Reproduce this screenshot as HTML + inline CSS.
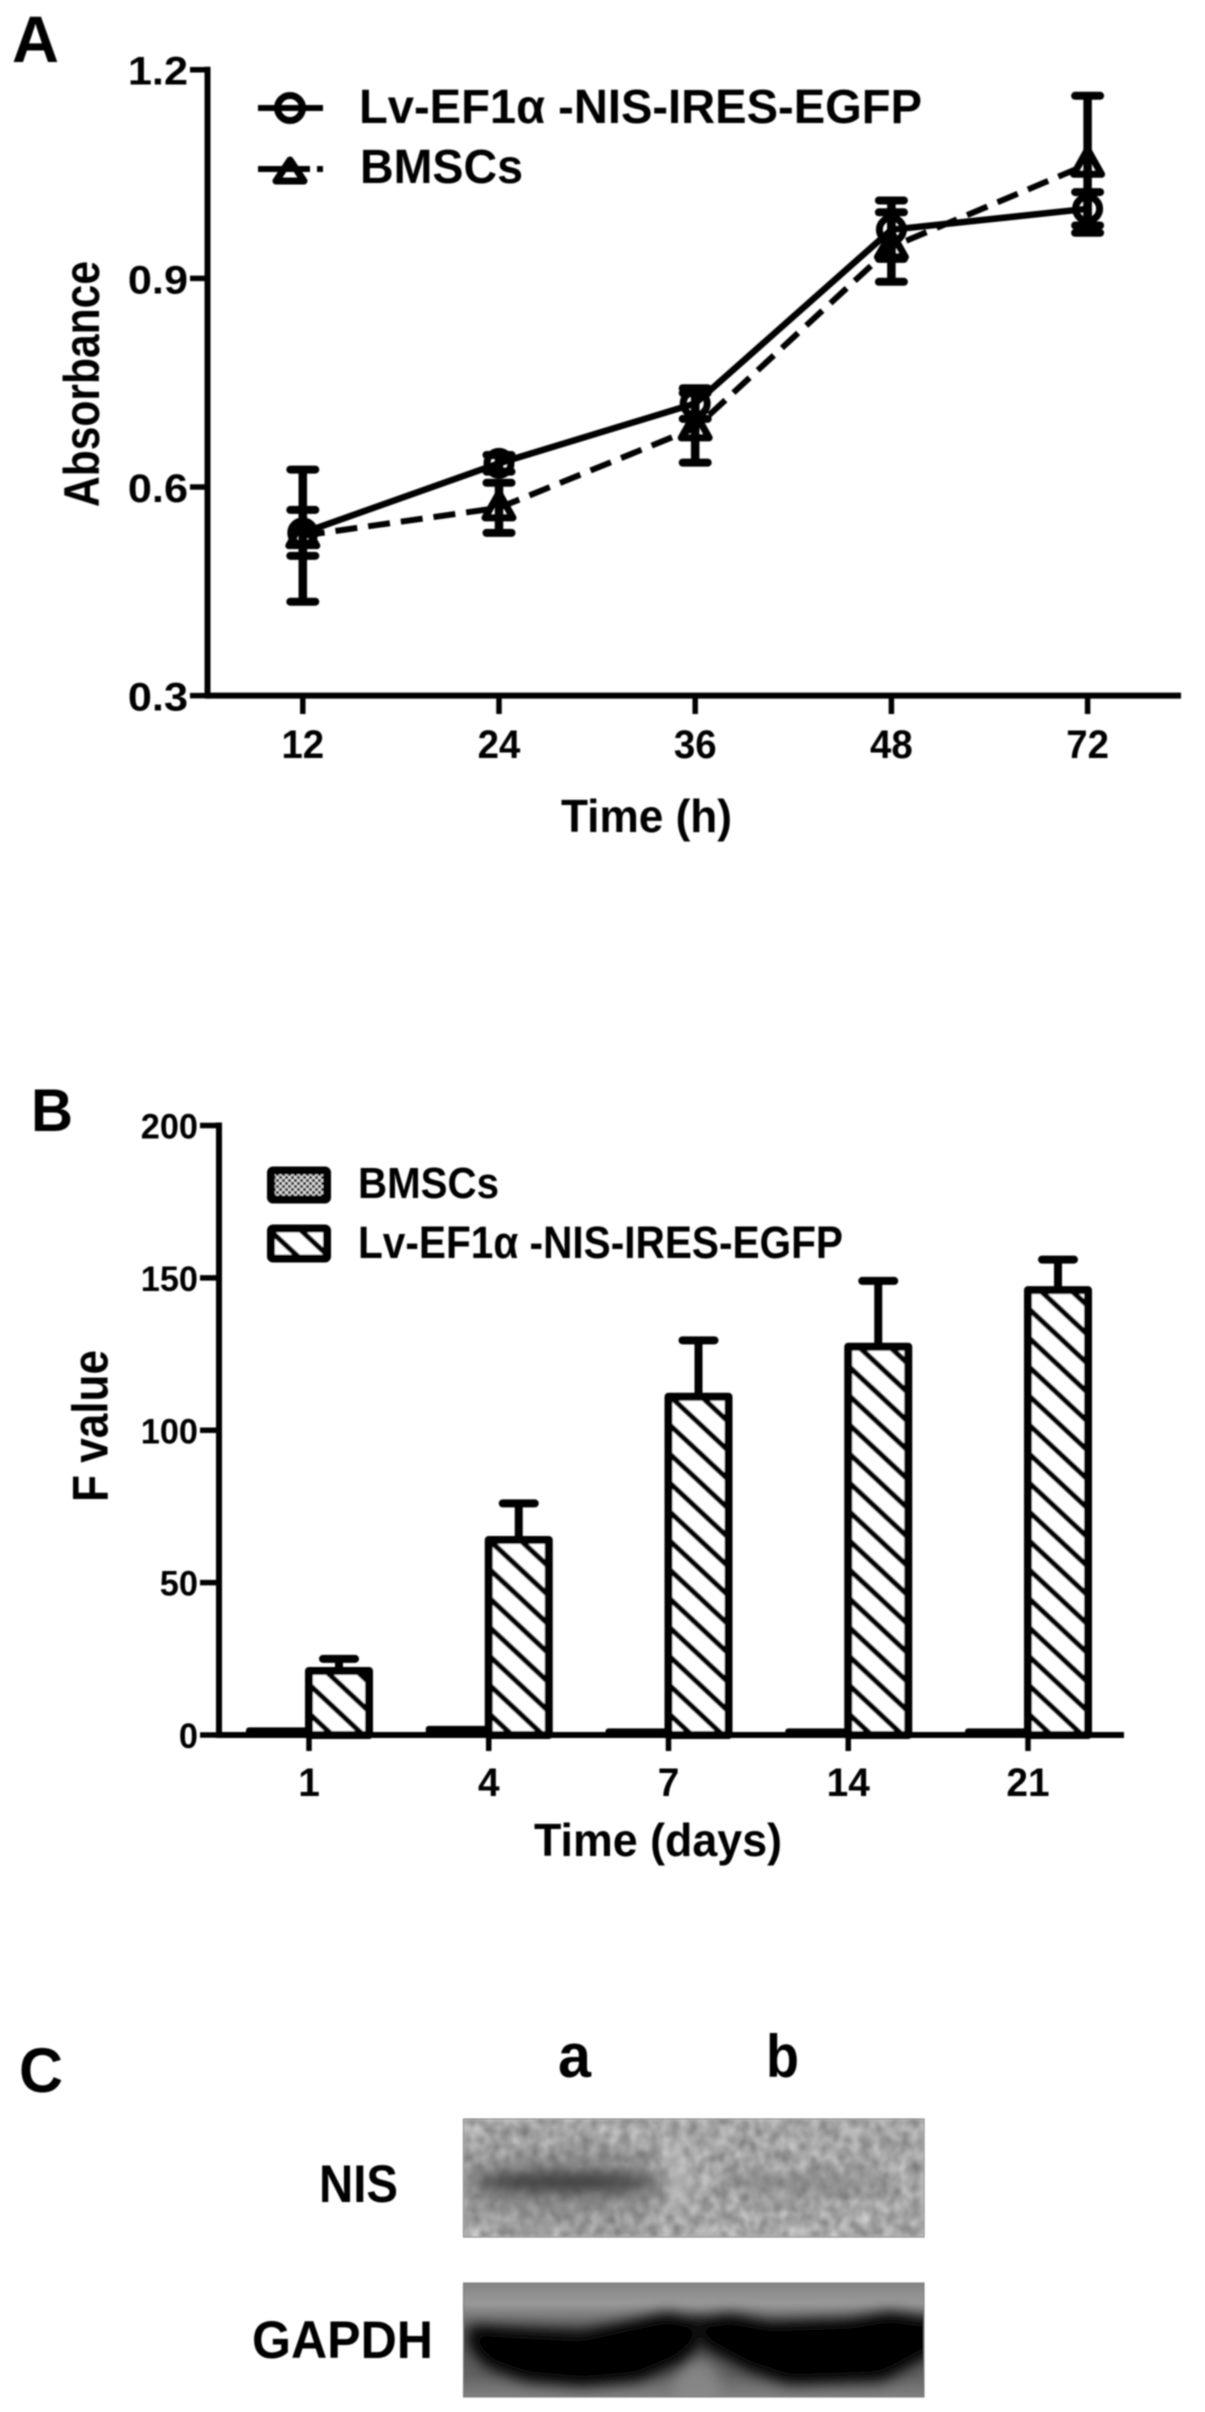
<!DOCTYPE html>
<html lang="en">
<head>
<meta charset="utf-8">
<title>Absorbance, F value and Western blot panels</title>
<style>
  html, body { margin: 0; padding: 0; background: #fff; }
  svg { display: block; }
  text { font-family: "Liberation Sans", sans-serif; font-weight: bold; fill: #000; }
</style>
</head>
<body>
<svg id="figure" xmlns="http://www.w3.org/2000/svg" width="1205" height="2412" viewBox="0 0 1205 2412">
  <defs>
    <filter id="soft" x="-5%" y="-5%" width="110%" height="110%"><feGaussianBlur stdDeviation="0.7"/></filter>
    <filter id="blur3" x="-30%" y="-60%" width="160%" height="220%"><feGaussianBlur stdDeviation="7"/></filter>
    <filter id="blur5" x="-20%" y="-30%" width="140%" height="160%"><feGaussianBlur stdDeviation="7"/></filter>
    <filter id="blur14" x="-30%" y="-60%" width="160%" height="220%"><feGaussianBlur stdDeviation="14"/></filter>
    <filter id="noise" x="0" y="0" width="100%" height="100%" color-interpolation-filters="sRGB">
      <feTurbulence type="fractalNoise" baseFrequency="0.1 0.08" numOctaves="2" seed="7"/>
      <feColorMatrix type="matrix" values="0.45 0 0 0 0.42  0.45 0 0 0 0.42  0.45 0 0 0 0.42  0 0 0 0 1"/>
      <feGaussianBlur stdDeviation="1.2"/>
    </filter>
    <linearGradient id="gapdhBg" x1="0" y1="0" x2="0" y2="1">
      <stop offset="0" stop-color="#858585"/>
      <stop offset="0.18" stop-color="#989898"/>
      <stop offset="0.42" stop-color="#555"/>
      <stop offset="0.8" stop-color="#606060"/>
      <stop offset="1" stop-color="#808080"/>
    </linearGradient>
    <pattern id="dots" patternUnits="userSpaceOnUse" width="6" height="6">
      <rect width="6" height="6" fill="#111"/>
      <rect x="0" y="0" width="3" height="3" fill="#ddd"/>
      <rect x="3" y="3" width="3" height="3" fill="#ddd"/>
    </pattern>
    <clipPath id="blot1"><rect x="463.5" y="2119" width="460.5" height="118"/></clipPath>
    <clipPath id="blot2"><rect x="463.5" y="2283" width="460.5" height="114"/></clipPath>
  </defs>

  <g id="root" filter="url(#soft)">
    <g id="panel-a"></g>
    <g id="panel-b"></g>

    <g id="panel-c">
      <text x="19" y="2092" font-size="63" textLength="44" lengthAdjust="spacingAndGlyphs">C</text>
      <text x="558" y="2077" font-size="62" textLength="33" lengthAdjust="spacingAndGlyphs">a</text>
      <text x="766" y="2077" font-size="60" textLength="33" lengthAdjust="spacingAndGlyphs">b</text>
      <text x="319" y="2202" font-size="53" textLength="79" lengthAdjust="spacingAndGlyphs">NIS</text>
      <text x="252" y="2358" font-size="53" textLength="181" lengthAdjust="spacingAndGlyphs">GAPDH</text>

      <g clip-path="url(#blot1)">
        <rect x="463.5" y="2119" width="460.5" height="118" fill="#a0a0a0" filter="url(#noise)"/>
        <ellipse cx="565" cy="2185" rx="115" ry="34" fill="#6c6c6c" opacity="0.55" filter="url(#blur14)"/>
        <ellipse cx="565" cy="2182" rx="88" ry="10" fill="#3c3c3c" opacity="0.95" filter="url(#blur3)"/>
        <ellipse cx="805" cy="2184" rx="88" ry="13" fill="#6c6c6c" opacity="0.4" filter="url(#blur3)"/>
        <ellipse cx="677" cy="2175" rx="9" ry="40" fill="#d0d0d0" opacity="0.6" filter="url(#blur3)"/>
      </g>
      <rect x="463.5" y="2119" width="460.5" height="118" fill="none" stroke="#777" stroke-width="1"/>

      <g clip-path="url(#blot2)">
        <rect x="463.5" y="2283" width="460.5" height="114" fill="url(#gapdhBg)"/>
        <ellipse cx="697" cy="2392" rx="24" ry="32" fill="#8a8a8a" opacity="0.85" filter="url(#blur5)"/>
        <path d="M475 2332 L517 2335 L583 2338 L667 2319 L695 2325 L695 2342 L677 2358 L637 2375 L583 2380 L527 2375 L490 2362 L475 2345 Z" fill="#000" stroke="#000" stroke-width="12" stroke-linejoin="round" filter="url(#blur5)"/>
        <path d="M699 2325 L730 2320 L770 2328 L850 2325 L890 2318 L935 2325 L935 2345 L900 2365 L880 2375 L790 2378 L750 2365 L707 2342 Z" fill="#000" stroke="#000" stroke-width="12" stroke-linejoin="round" filter="url(#blur5)"/>
      </g>
      <rect x="463.5" y="2283" width="460.5" height="114" fill="none" stroke="#777" stroke-width="1"/>
    </g>
  </g>
</svg>

<script>
// Panel A data
const timeHours = ['12', '24', '36', '48', '72'];
const absorbanceTicks = [0.3, 0.6, 0.9, 1.2];
const nisAbsorbance = [0.534, 0.634, 0.72, 0.97, 1.0];
const nisAbsorbanceErr = [0.033, 0.012, 0.022, 0.042, 0.024];
const bmscAbsorbance = [0.53, 0.57, 0.685, 0.945, 1.064];
const bmscAbsorbanceErr = [0.095, 0.036, 0.05, 0.05, 0.0985];

// Panel B data
const timeDays = ['1', '4', '7', '14', '21'];
const fValueTicks = [0, 50, 100, 150, 200];
const bmscFValue = [1.5, 2, 1.2, 1.2, 1.2];
const nisFValue = [21, 64, 111, 127.4, 146];
const nisFValueErr = [4, 12, 18.5, 21.6, 10];

const NS = 'http://www.w3.org/2000/svg';
function mk(parent, tag, attrs, txt) {
  const e = document.createElementNS(NS, tag);
  for (const k in attrs) e.setAttribute(k, attrs[k]);
  if (txt !== undefined) e.textContent = txt;
  parent.appendChild(e);
  return e;
}
function stretch(t, factor) {
  t.setAttribute('textLength', (t.getComputedTextLength() * factor).toFixed(1));
  t.setAttribute('lengthAdjust', 'spacingAndGlyphs');
}

/* ---------- Panel A ---------- */
const pa = document.getElementById('panel-a');
const axA = { left: 207.5, right: 1181, top: 69.7, bottom: 695.6, min: 0.3, max: 1.2 };
function xA(i) { return 302.8 + i * 196.2; }
function yA(v) { return axA.bottom - (v - axA.min) / (axA.max - axA.min) * (axA.bottom - axA.top); }

let n;
n = mk(pa, 'text', { x: 12, y: 62, 'font-size': 66, textLength: 47, lengthAdjust: 'spacingAndGlyphs' }, 'A');



n = mk(pa, 'line', { x1: axA.left, x2: axA.left, y1: axA.top - 3, y2: axA.bottom + 3, stroke: '#000', 'stroke-width': 6 });


n = mk(pa, 'line', { x1: axA.left, x2: axA.right, y1: axA.bottom, y2: axA.bottom, stroke: '#000', 'stroke-width': 6 });



absorbanceTicks.forEach(function (v) {
  const t = mk(pa, 'line', { x1: 190, x2: axA.left, y1: yA(v), y2: yA(v), stroke: '#000', 'stroke-width': 5.5 });
  
  
  const l = mk(pa, 'text', { x: 188, y: yA(v) + 15, 'font-size': 40, 'text-anchor': 'end' }, v.toFixed(1));
  
  
  stretch(l, 1.08);
});
timeHours.forEach(function (c, i) {
  const t = mk(pa, 'line', { x1: xA(i), x2: xA(i), y1: axA.bottom, y2: 714, stroke: '#000', 'stroke-width': 5.5 });
  
  
  const l = mk(pa, 'text', { x: xA(i), y: 758, 'font-size': 40, 'text-anchor': 'middle' }, c);
  
  
  stretch(l, 0.96);
});

n = mk(pa, 'text', { x: 561, y: 832, 'font-size': 46, textLength: 171, lengthAdjust: 'spacingAndGlyphs' }, 'Time (h)');


n = mk(pa, 'text', { transform: 'translate(99 507) rotate(-90)', 'font-size': 50, textLength: 246, lengthAdjust: 'spacingAndGlyphs' }, 'Absorbance');



function polyPoints(vals) {
  return vals.map(function (v, i) { return xA(i).toFixed(1) + ',' + yA(v).toFixed(1); }).join(' ');
}
function errorBars(vals, errs, seriesName) {
  vals.forEach(function (v, i) {
    const x = xA(i);
    const stem = mk(pa, 'line', { x1: x, x2: x, y1: yA(v + errs[i]), y2: yA(v - errs[i]), stroke: '#000', 'stroke-width': 8.5 });
    
    
    [v + errs[i], v - errs[i]].forEach(function (e) {
      const cap = mk(pa, 'line', { x1: x - 12.5, x2: x + 12.5, y1: yA(e), y2: yA(e), stroke: '#000', 'stroke-width': 8, 'stroke-linecap': 'round' });
      
      
    });
  });
}
function triangle(cx, cy) {
  return (cx) + ',' + (cy - 15) + ' ' + (cx + 14) + ',' + (cy + 10) + ' ' + (cx - 14) + ',' + (cy + 10);
}
errorBars(bmscAbsorbance, bmscAbsorbanceErr, 'bmsc');
errorBars(nisAbsorbance, nisAbsorbanceErr, 'nis');

n = mk(pa, 'polyline', { points: polyPoints(bmscAbsorbance), fill: 'none', stroke: '#000', 'stroke-width': 6, 'stroke-dasharray': '22 11' });


n = mk(pa, 'polyline', { points: polyPoints(nisAbsorbance), fill: 'none', stroke: '#000', 'stroke-width': 6.5 });



bmscAbsorbance.forEach(function (v, i) {
  const m = mk(pa, 'polygon', { points: triangle(xA(i), yA(v)), fill: 'none', stroke: '#000', 'stroke-width': 7, 'stroke-linejoin': 'round' });
  
  
});
nisAbsorbance.forEach(function (v, i) {
  const m = mk(pa, 'circle', { cx: xA(i), cy: yA(v), r: 12, fill: 'none', stroke: '#000', 'stroke-width': 7 });
  
  
});

// Panel A legend
n = mk(pa, 'line', { x1: 258, x2: 323, y1: 108, y2: 108, stroke: '#000', 'stroke-width': 6 });


n = mk(pa, 'circle', { cx: 290, cy: 108, r: 12.5, fill: 'none', stroke: '#000', 'stroke-width': 7 });


n = mk(pa, 'text', { x: 359, y: 123, 'font-size': 48, textLength: 563, lengthAdjust: 'spacingAndGlyphs' }, 'Lv-EF1α -NIS-IRES-EGFP');


n = mk(pa, 'line', { x1: 258, x2: 323, y1: 169, y2: 169, stroke: '#000', 'stroke-width': 6, 'stroke-dasharray': '52 7 7 0' });


n = mk(pa, 'polygon', { points: '290,160 304,181 276,181', fill: 'none', stroke: '#000', 'stroke-width': 7, 'stroke-linejoin': 'round' });


n = mk(pa, 'text', { x: 360, y: 183, 'font-size': 48, textLength: 163, lengthAdjust: 'spacingAndGlyphs' }, 'BMSCs');



/* ---------- Panel B ---------- */
const pb = document.getElementById('panel-b');
const defs = document.querySelector('svg defs');
const axB = { left: 219, right: 1124, top: 1125.5, bottom: 1735, min: 0, max: 200 };
const barW = 60;
function xB(i) { return 309 + i * 179.75; }
function yB(v) { return axB.bottom - (v - axB.min) / (axB.max - axB.min) * (axB.bottom - axB.top); }

n = mk(pb, 'text', { x: 31, y: 1131, 'font-size': 60, textLength: 42, lengthAdjust: 'spacingAndGlyphs' }, 'B');



function hatchPattern(id, tx, ty) {
  const p = mk(defs, 'pattern', { id: id, patternUnits: 'userSpaceOnUse', width: 31, height: 28.95, patternTransform: 'translate(' + tx + ' ' + ty + ')' });
  mk(p, 'rect', { width: 31, height: 28.95, fill: '#fff' });
  [-31, 0, 31].forEach(function (dx) {
    mk(p, 'line', { x1: dx - 10, y1: -9.34, x2: dx + 41, y2: 38.29, stroke: '#000', 'stroke-width': 5.4 });
  });
}

bmscFValue.forEach(function (v, i) {
  const b = mk(pb, 'rect', { x: xB(i) - 60, y: yB(v), width: 60, height: axB.bottom - yB(v), fill: '#000', stroke: '#000', 'stroke-width': 6, 'stroke-linejoin': 'round' });
  
  
});
nisFValue.forEach(function (v, i) {
  const x = xB(i);
  const pid = 'hatch' + i;
  hatchPattern(pid, x + 4, axB.bottom - 18);
  const cx = x + barW / 2;
  const stem = mk(pb, 'line', { x1: cx, x2: cx, y1: yB(v + nisFValueErr[i]), y2: yB(v), stroke: '#000', 'stroke-width': 8 });
  
  
  const cap = mk(pb, 'line', { x1: cx - 16, x2: cx + 16, y1: yB(v + nisFValueErr[i]), y2: yB(v + nisFValueErr[i]), stroke: '#000', 'stroke-width': 8, 'stroke-linecap': 'round' });
  
  
  const b = mk(pb, 'rect', { x: x, y: yB(v), width: barW, height: axB.bottom - yB(v), fill: 'url(#' + pid + ')', stroke: '#000', 'stroke-width': 8, 'stroke-linejoin': 'round' });
  
  
});

n = mk(pb, 'line', { x1: axB.left, x2: axB.left, y1: axB.top - 3, y2: axB.bottom + 3, stroke: '#000', 'stroke-width': 6 });


n = mk(pb, 'line', { x1: axB.left, x2: axB.right, y1: axB.bottom, y2: axB.bottom, stroke: '#000', 'stroke-width': 6 });



fValueTicks.forEach(function (v) {
  const t = mk(pb, 'line', { x1: 200, x2: axB.left, y1: yB(v), y2: yB(v), stroke: '#000', 'stroke-width': 5.5 });
  
  
  const l = mk(pb, 'text', { x: 198, y: yB(v) + 13, 'font-size': 35, 'text-anchor': 'end' }, String(v));
  
  
  stretch(l, 0.98);
});
timeDays.forEach(function (c, i) {
  const t = mk(pb, 'line', { x1: xB(i), x2: xB(i), y1: axB.bottom, y2: 1751, stroke: '#000', 'stroke-width': 5.5 });
  
  
  const l = mk(pb, 'text', { x: xB(i), y: 1796, 'font-size': 40, 'text-anchor': 'middle' }, c);
  
  
  stretch(l, 0.97);
});

n = mk(pb, 'text', { x: 534, y: 1856, 'font-size': 46, textLength: 248, lengthAdjust: 'spacingAndGlyphs' }, 'Time (days)');


n = mk(pb, 'text', { transform: 'translate(107.5 1502) rotate(-90)', 'font-size': 50, textLength: 152, lengthAdjust: 'spacingAndGlyphs' }, 'F value');



// Panel B legend
hatchPattern('hatchLegend', 276, 1236);
n = mk(pb, 'rect', { x: 271, y: 1170.5, width: 56, height: 29, fill: 'url(#dots)', stroke: '#000', 'stroke-width': 8, rx: 2 });


n = mk(pb, 'text', { x: 358, y: 1198, 'font-size': 44, textLength: 141, lengthAdjust: 'spacingAndGlyphs' }, 'BMSCs');


n = mk(pb, 'rect', { x: 271, y: 1228.5, width: 56, height: 30, fill: 'url(#hatchLegend)', stroke: '#000', 'stroke-width': 8, rx: 2 });


n = mk(pb, 'text', { x: 358, y: 1258, 'font-size': 45, textLength: 485, lengthAdjust: 'spacingAndGlyphs' }, 'Lv-EF1α -NIS-IRES-EGFP');


</script>
</body>
</html>
